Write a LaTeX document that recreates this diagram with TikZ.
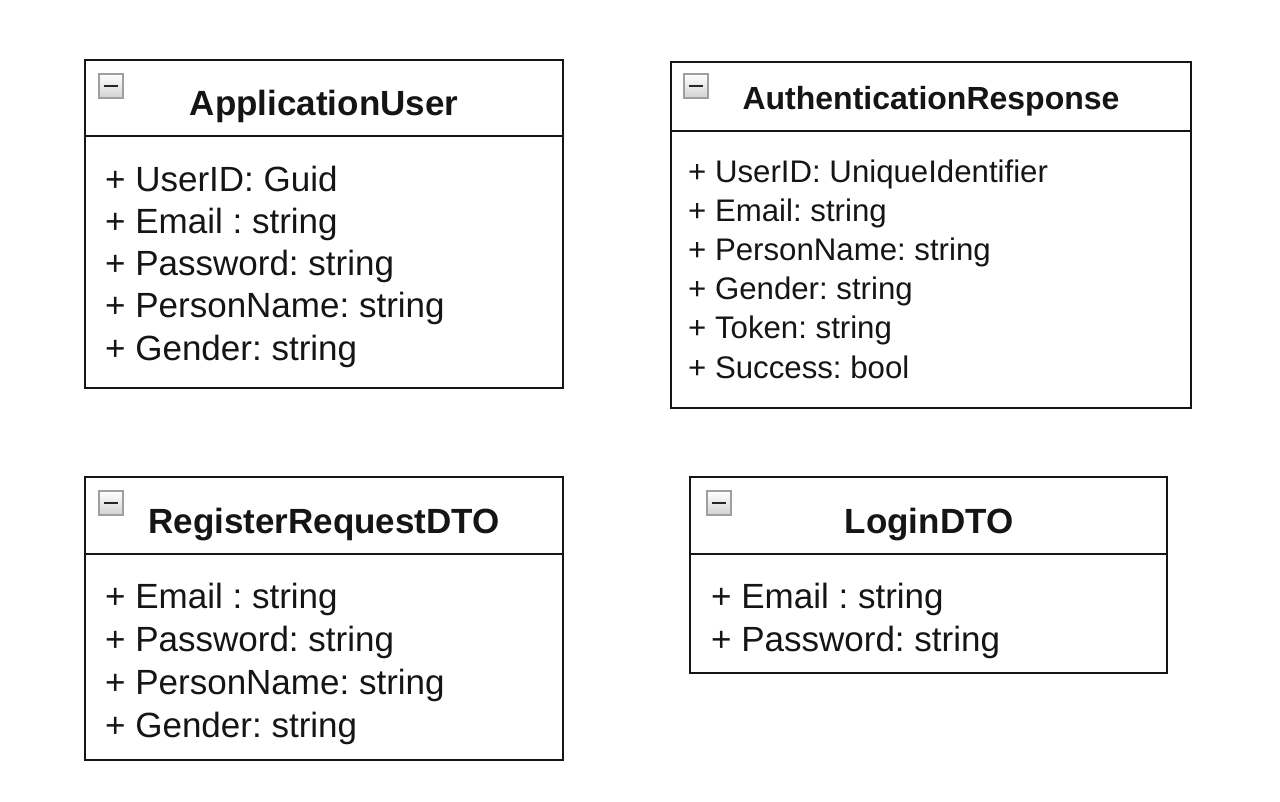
\documentclass[tikz,border=0pt]{standalone}
\usepackage{fontspec}
\setmainfont{Liberation Sans}
\frenchspacing
\usetikzlibrary{shadings}
\definecolor{ink}{HTML}{151515}
\tikzset{
  umlbox/.style={draw=ink, line width=1.8pt, fill=white, rectangle, inner sep=0pt, anchor=north west},
  divider/.style={draw=ink, line width=1.8pt},
  titletxt/.style={anchor=base, inner sep=0pt, font=\fontsize{35}{40}\selectfont\bfseries, text=ink},
  attr/.style={anchor=base west, inner sep=0pt, font=\fontsize{35}{40}\selectfont, text=ink},
  attrsmall/.style={anchor=base west, inner sep=0pt, font=\fontsize{31.2}{36}\selectfont, text=ink},
  titlesmall/.style={anchor=base, inner sep=0pt, font=\fontsize{32}{36}\selectfont\bfseries, text=ink},
  iconbox/.style={draw=gray!75, line width=1.4pt, minimum size=24pt, inner sep=0pt, rectangle, top color=white, bottom color=gray!35},
  minusbar/.style={draw=black!85, line width=2pt}
}
\begin{document}
\begin{tikzpicture}[x=1pt,y=-1pt]
\useasboundingbox (0,0) rectangle (1280,802);
\fill[white] (0,0) rectangle (1280,802);

% ApplicationUser
\node[umlbox, minimum width=478pt, minimum height=328pt] (au) at (84,59) {};
\draw[divider] (84,136) -- (562,136);
\node[iconbox] (aui) at (111,86) {};
\draw[minusbar] ([xshift=-7pt]aui.center) -- ([xshift=7pt]aui.center);
\node[titletxt] (aut) at (324,116) {ApplicationUser};
\node[attr] (au1) at (105,192) {+ UserID: Guid};
\node[attr] (au2) at (105,234) {+ Email : string};
\node[attr] (au3) at (105,276) {+ Password: string};
\node[attr] (au4) at (105,318) {+ PersonName: string};
\node[attr] (au5) at (105,360) {+ Gender: string};

% AuthenticationResponse
\node[umlbox, minimum width=520pt, minimum height=346pt] (ar) at (670,61) {};
\draw[divider] (670,131) -- (1190,131);
\node[iconbox] (ari) at (696,86) {};
\draw[minusbar] ([xshift=-7pt]ari.center) -- ([xshift=7pt]ari.center);
\node[titlesmall] (art) at (931,110) {AuthenticationResponse};
\node[attrsmall] (ar1) at (688,183) {+ UserID: UniqueIdentifier};
\node[attrsmall] (ar2) at (688,222) {+ Email: string};
\node[attrsmall] (ar3) at (688,261) {+ PersonName: string};
\node[attrsmall] (ar4) at (688,300) {+ Gender: string};
\node[attrsmall] (ar5) at (688,339) {+ Token: string};
\node[attrsmall] (ar6) at (688,378) {+ Success: bool};

% RegisterRequestDTO
\node[umlbox, minimum width=478pt, minimum height=283pt] (rr) at (84,476) {};
\draw[divider] (84,554) -- (562,554);
\node[iconbox] (rri) at (111,503) {};
\draw[minusbar] ([xshift=-7pt]rri.center) -- ([xshift=7pt]rri.center);
\node[titletxt] (rrt) at (324,533) {RegisterRequestDTO};
\node[attr] (rr1) at (105,608) {+ Email : string};
\node[attr] (rr2) at (105,651) {+ Password: string};
\node[attr] (rr3) at (105,694) {+ PersonName: string};
\node[attr] (rr4) at (105,737) {+ Gender: string};

% LoginDTO
\node[umlbox, minimum width=477pt, minimum height=196pt] (ld) at (689,476) {};
\draw[divider] (689,554) -- (1166,554);
\node[iconbox] (ldi) at (719,503) {};
\draw[minusbar] ([xshift=-7pt]ldi.center) -- ([xshift=7pt]ldi.center);
\node[titletxt] (ldt) at (929,533) {LoginDTO};
\node[attr] (ld1) at (711,608) {+ Email : string};
\node[attr] (ld2) at (711,651) {+ Password: string};
\end{tikzpicture}
\end{document}
